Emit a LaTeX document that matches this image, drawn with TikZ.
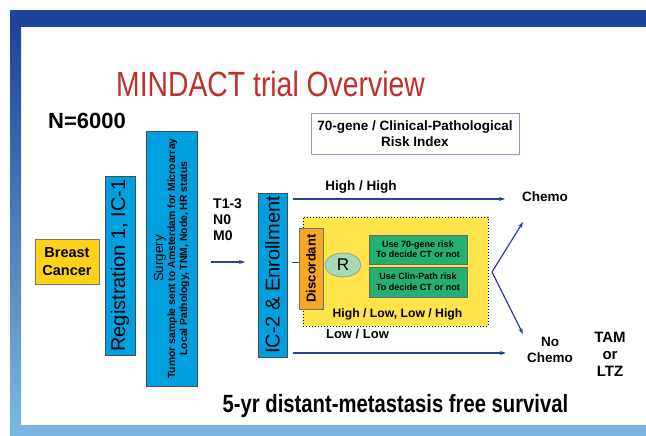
\documentclass[tikz,border=0pt]{standalone}
\usepackage{fontspec}
\setmainfont{Liberation Sans}
\newfontfamily\narrowfont{Liberation Sans}[FakeStretch=0.81]
\usetikzlibrary{arrows.meta,shapes.geometric}
\definecolor{frameDark}{HTML}{1F449A}
\definecolor{frameLight}{HTML}{7AB6E1}
\definecolor{titleRed}{HTML}{C0302A}
\definecolor{boxBlue}{HTML}{00A0E0}
\definecolor{boxYellow}{HTML}{FFD21A}
\definecolor{zoneYellow}{HTML}{FFE44C}
\definecolor{discOrange}{HTML}{F7A823}
\definecolor{rGreen}{HTML}{A8D9B8}
\definecolor{useGreen}{HTML}{23B070}
\definecolor{arrowBlue}{HTML}{2A3F9B}
\definecolor{riskBorder}{HTML}{8C98CC}
\tikzset{
  bluebox/.style={draw=black!70, fill=boxBlue, line width=0.6pt, inner sep=0pt},
  flow/.style={draw=arrowBlue, line width=1.2pt, -{Stealth[length=6pt,width=4pt]}},
  lbl/.style={font=\bfseries\fontsize{13}{15}\selectfont, inner sep=0pt},
  usebox/.style={draw=black!60, fill=useGreen, minimum width=98pt, inner sep=0pt, align=center, font=\bfseries\fontsize{9}{10.5}\selectfont},
}
\begin{document}
\begin{tikzpicture}[x=1pt,y=-1pt]
\useasboundingbox (0,0) rectangle (646,436);
% frame
\fill[frameDark] (10,10) rectangle (646,27);
\shade[top color=frameDark, bottom color=frameLight] (10,27) rectangle (21,425);
\fill[frameLight] (10,425) rectangle (646,436);
% title
\node[text=titleRed, font=\narrowfont\fontsize{35}{40}\selectfont, inner sep=0pt] (title) at (270.5,84) {MINDACT trial Overview};
\node[font=\bfseries\fontsize{22}{26}\selectfont, inner sep=0pt] (n) at (87,121) {N=6000};
% risk index box
\node[draw=riskBorder, line width=0.8pt, minimum width=208pt, minimum height=41pt, align=center, inner sep=0pt,
      font=\bfseries\fontsize{13.5}{15.5}\selectfont] (risk) at (415,133.5) {70-gene / Clinical-Pathological\\Risk Index};
% breast cancer
\node[draw=black!55, fill=boxYellow, line width=0.6pt, minimum width=64pt, minimum height=45pt, inner sep=0pt, align=center,
      font=\bfseries\fontsize{14.5}{18}\selectfont] (bc) at (67,261.5) {Breast\\Cancer};
% registration
\node[bluebox, minimum width=179pt, minimum height=30pt, rotate=90, font=\fontsize{20}{24}\selectfont] (reg) at (120,265.5) {Registration 1, IC-1};
% surgery
\node[bluebox, minimum width=255pt, minimum height=51pt, rotate=90, align=center, font=\bfseries\fontsize{10.4}{12}\selectfont] (surg) at (171.5,258.5)
  {{\mdseries\fontsize{13.4}{14}\selectfont Surgery}\\Tumor sample sent to Amsterdam for Microarray\\Local Pathology, TNM, Node, HR status};
% T1-3
\node[align=left, inner sep=0pt, font=\bfseries\fontsize{14}{16}\selectfont, anchor=north west] (tnm) at (213,199) {T1-3\\N0\\M0};
\coordinate (a1s) at (211,262);
\coordinate (a1e) at (245,262);
\draw[flow] (a1s) -- (a1e);
% IC-2
\node[bluebox, minimum width=164pt, minimum height=29pt, rotate=90, font=\fontsize{20}{24}\selectfont] (ic2) at (272.5,275) {IC-2 \& Enrollment};
% yellow zone
\node[draw=black, dotted, line width=1pt, fill=zoneYellow, minimum width=185pt, minimum height=109pt, inner sep=0pt] (zone) at (395.5,271.5) {};
\node[draw=black!55, fill=discOrange, line width=0.6pt, minimum width=81pt, minimum height=24pt, inner sep=0pt, rotate=90,
      font=\bfseries\fontsize{13}{15}\selectfont] (disc) at (311,268.5) {Discordant};
\coordinate (tick) at (292,262);
\draw[black!70, line width=0.6pt] (tick) -- (tick -| disc.north);
\node[ellipse, draw=black!45, fill=rGreen, line width=0.6pt, minimum width=36pt, minimum height=24pt, inner sep=0pt,
      font=\fontsize{17}{20}\selectfont] (r) at (343,265) {R};
\node[usebox, minimum height=29pt] (use1) at (418,249.5) {Use 70-gene risk\\To decide CT or not};
\node[usebox, minimum height=30pt] (use2) at (418,282) {Use Clin-Path risk\\To decide CT or not};
\node[lbl, font=\bfseries\fontsize{12.2}{14}\selectfont] (hllh) at (397.5,314) {High / Low, Low / High};
% high/high
\coordinate (hhs) at (293,199);
\coordinate (hhe) at (505,199);
\draw[flow] (hhs) -- (hhe);
\node[lbl, font=\bfseries\fontsize{13.5}{15}\selectfont] (hh) at (361,187) {High / High};
% low/low
\coordinate (lls) at (293,353);
\coordinate (lle) at (506,353);
\draw[flow] (lls) -- (lle);
\node[lbl] (ll) at (357.5,334) {Low / Low};
% fork
\coordinate (fv) at (492,272);
\coordinate (fu) at (523,222);
\coordinate (fd) at (523,334);
\draw[flow] (fv) -- (fu);
\draw[flow] (fv) -- (fd);
% outcomes
\node[font=\bfseries\fontsize{13.5}{15}\selectfont, inner sep=0pt] (chemo) at (545,197) {Chemo};
\node[font=\bfseries\fontsize{13.5}{16}\selectfont, inner sep=0pt, align=center] (nochemo) at (550,350) {No\\Chemo};
\node[font=\bfseries\fontsize{15}{17}\selectfont, inner sep=0pt, align=center] (tam) at (610,354) {TAM\\or\\LTZ};
% bottom
\node[font=\narrowfont\bfseries\fontsize{25}{28}\selectfont, inner sep=0pt, anchor=base] (surv) at (395.5,412) {5-yr distant-metastasis free survival};
\end{tikzpicture}
\end{document}
